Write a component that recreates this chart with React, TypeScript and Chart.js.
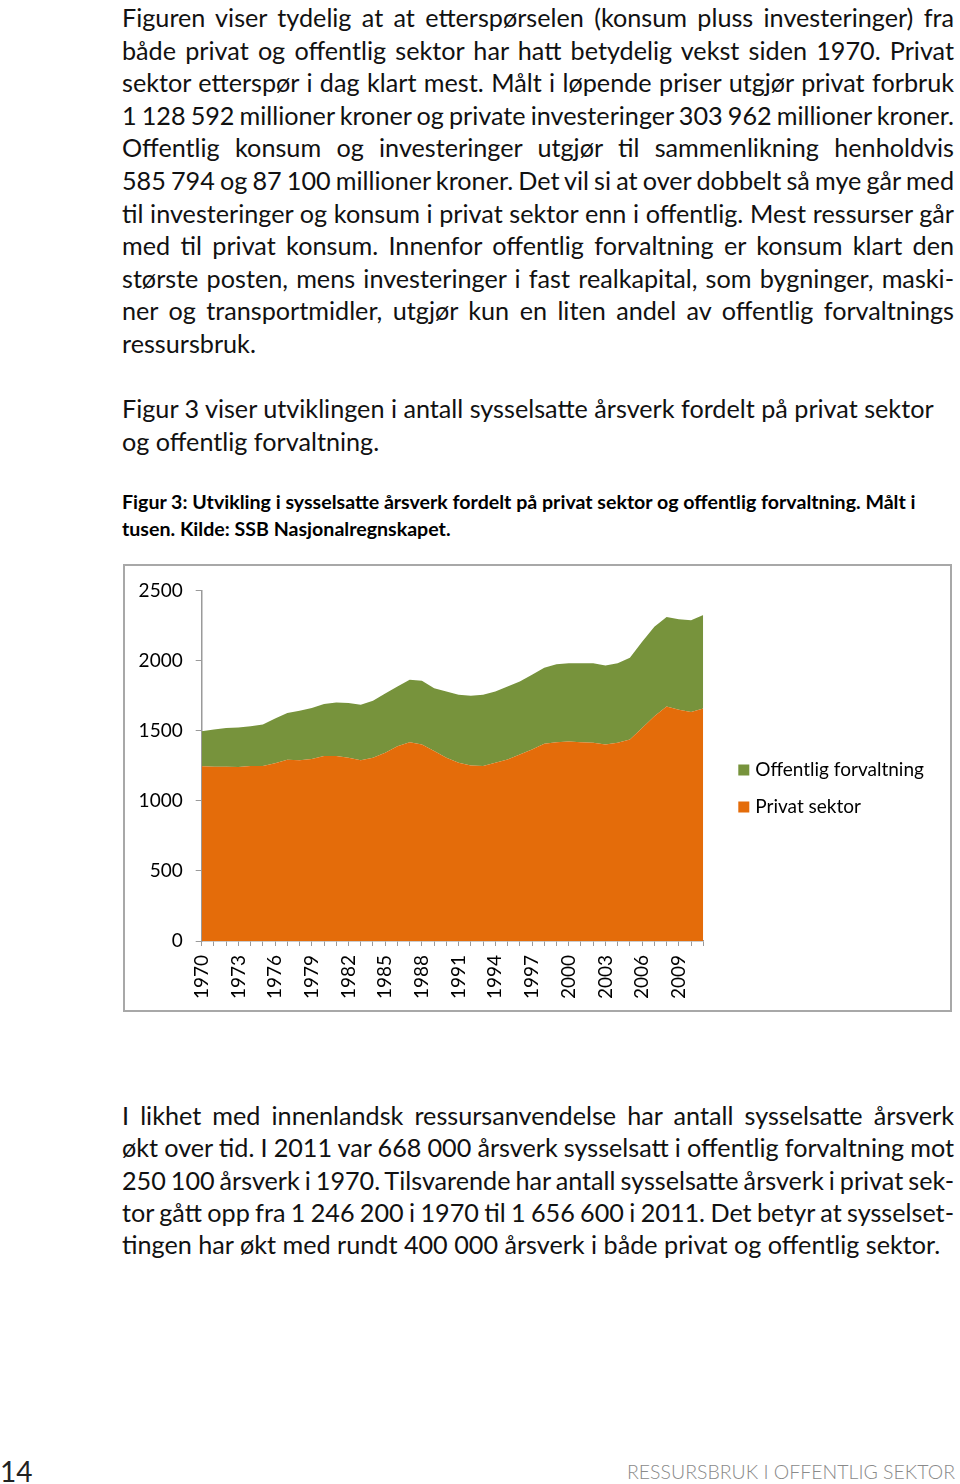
import React, { useEffect, useLayoutEffect, useRef } from "react";
import { Chart, registerables } from "chart.js";

Chart.register(...registerables);

const years = [
  "1970", "1971", "1972", "1973", "1974", "1975", "1976", "1977", "1978", "1979",
  "1980", "1981", "1982", "1983", "1984", "1985", "1986", "1987", "1988", "1989",
  "1990", "1991", "1992", "1993", "1994", "1995", "1996", "1997", "1998", "1999",
  "2000", "2001", "2002", "2003", "2004", "2005", "2006", "2007", "2008", "2009",
  "2010", "2011",
];

const privatSektor = [
  1246, 1243, 1243, 1241, 1248, 1248, 1267, 1293, 1288, 1297,
  1319, 1319, 1307, 1288, 1307, 1342, 1389, 1418, 1401, 1354,
  1307, 1271, 1252, 1248, 1271, 1295, 1330, 1366, 1406, 1418,
  1423, 1418, 1413, 1401, 1413, 1437, 1519, 1602, 1673, 1649,
  1633, 1657,
];

const offentligForvaltning = [
  250, 265, 276, 281, 283, 295, 319, 333, 354, 364,
  371, 382, 390, 397, 406, 423, 426, 444, 454, 449,
  472, 485, 497, 508, 508, 520, 520, 532, 543, 555,
  557, 562, 567, 563, 567, 583, 615, 638, 638, 645,
  654, 668,
];

const labeledYears = ["1970", "1973", "1976", "1979", "1982", "1985", "1988", "1991", "1994", "1997", "2000", "2003", "2006", "2009"];
const seriesNames = ["Privat sektor", "Offentlig forvaltning"];

const ORANGE = "#E46C0A";
const GREEN = "#77933C";
const AXIS = "#9a9a9a";
const CHART_FONT = "Lato, 'Open Sans', sans-serif";

const para1 = [
  "Figuren viser tydelig at at etterspørselen (konsum pluss investeringer) fra",
  "både privat og offentlig sektor har hatt betydelig vekst siden 1970. Privat",
  "sektor etterspør i dag klart mest. Målt i løpende priser utgjør privat forbruk",
  "1 128 592 millioner kroner og private investeringer 303 962 millioner kroner.",
  "Offentlig konsum og investeringer utgjør til sammenlikning henholdvis",
  "585 794 og 87 100 millioner kroner. Det vil si at over dobbelt så mye går med",
  "til investeringer og konsum i privat sektor enn i offentlig. Mest ressurser går",
  "med til privat konsum. Innenfor offentlig forvaltning er konsum klart den",
  "største posten, mens investeringer i fast realkapital, som bygninger, maski-",
  "ner og transportmidler, utgjør kun en liten andel av offentlig forvaltnings",
  "ressursbruk.",
];
const para2 = [
  "Figur 3 viser utviklingen i antall sysselsatte årsverk fordelt på privat sektor",
  "og offentlig forvaltning.",
];
const caption = [
  "Figur 3: Utvikling i sysselsatte årsverk fordelt på privat sektor og offentlig forvaltning. Målt i",
  "tusen. Kilde: SSB Nasjonalregnskapet.",
];
const para3 = [
  "I likhet med innenlandsk ressursanvendelse har antall sysselsatte årsverk",
  "økt over tid. I 2011 var 668 000 årsverk sysselsatt i offentlig forvaltning mot",
  "250 100 årsverk i 1970. Tilsvarende har antall sysselsatte årsverk i privat sek-",
  "tor gått opp fra 1 246 200 i 1970 til 1 656 600 i 2011. Det betyr at sysselset-",
  "tingen har økt med rundt 400 000 årsverk i både privat og offentlig sektor.",
];

const legendPlugin = {
  id: "sideLegend",
  afterDraw(chart: any) {
    const ctx = chart.ctx;
    const ds = chart.data.datasets;
    const items = [ds[1], ds[0]];
    const x0 = chart.chartArea.right + 35;
    const ys = [204, 241];
    ctx.save();
    ctx.font = `19px ${CHART_FONT}`;
    ctx.textBaseline = "middle";
    ctx.textAlign = "left";
    items.forEach((it: any, i: number) => {
      ctx.fillStyle = it.backgroundColor;
      ctx.fillRect(x0, ys[i] - 5.5, 11, 11);
      ctx.fillStyle = "#000";
      ctx.fillText(it.label, x0 + 17, ys[i]);
    });
    ctx.restore();
  },
};

function AreaChart() {
  const ref = useRef<HTMLCanvasElement | null>(null);
  useEffect(() => {
    if (!ref.current) return;
    const chart = new Chart(ref.current, {
      type: "line",
      data: {
        labels: years,
        datasets: [
          {
            label: seriesNames[0],
            data: privatSektor,
            backgroundColor: ORANGE,
            borderColor: ORANGE,
            borderWidth: 0,
            pointRadius: 0,
            fill: "origin",
            tension: 0,
          },
          {
            label: seriesNames[1],
            data: offentligForvaltning,
            backgroundColor: GREEN,
            borderColor: GREEN,
            borderWidth: 0,
            pointRadius: 0,
            fill: "-1",
            tension: 0,
          },
        ],
      },
      options: {
        animation: false,
        responsive: false,
        maintainAspectRatio: false,
        layout: { padding: { top: 22, right: 246.7, left: 0, bottom: 0 } },
        plugins: {
          legend: { display: false },
          tooltip: { enabled: false },
        },
        scales: {
          x: {
            offset: false,
            grid: { drawOnChartArea: false, drawTicks: true, tickLength: 5, color: AXIS },
            border: { display: true, color: AXIS, width: 1.5 },
            ticks: {
              autoSkip: false,
              minRotation: 90,
              maxRotation: 90,
              padding: 9,
              color: "#000",
              font: { family: CHART_FONT, size: 19 },
              callback: function (this: any, value: any) {
                const lbl = this.getLabelForValue(value);
                return labeledYears.includes(lbl) ? lbl : "";
              },
            },
            afterFit: (scale: any) => {
              scale.height = 69;
            },
          },
          y: {
            stacked: true,
            min: 0,
            max: 2500,
            grid: { drawOnChartArea: false, drawTicks: true, tickLength: 6, color: AXIS },
            border: { display: true, color: AXIS, width: 1.5 },
            ticks: {
              stepSize: 500,
              padding: 13,
              color: "#000",
              font: { family: CHART_FONT, size: 19 },
              callback: (value: any) => String(value),
            },
            afterFit: (scale: any) => {
              scale.width = 76.7;
            },
          },
        },
      },
      plugins: [legendPlugin],
    });
    return () => chart.destroy();
  }, []);
  return <canvas ref={ref} width={825} height={444} style={{ display: "block", width: 825, height: 444 }} />;
}

const TEXT_FONT = "Lato, 'Open Sans', sans-serif";
const TEXT_WIDTH = 832;

function Line({ text, justify, lineHeight }: any) {
  const ref = useRef<HTMLSpanElement | null>(null);
  useLayoutEffect(() => {
    const el = ref.current;
    if (!el) return;
    const measure = () => {
      el.style.wordSpacing = "0px";
      const w = el.getBoundingClientRect().width;
      const spaces = (text.match(/ /g) || []).length;
      if (!spaces) return;
      if (justify || w > TEXT_WIDTH) {
        el.style.wordSpacing = `${(TEXT_WIDTH - w) / spaces}px`;
      }
    };
    measure();
    const f: any = (document as any).fonts;
    if (f && f.ready) f.ready.then(measure);
  }, [text, justify]);
  return (
    <div style={{ height: lineHeight, lineHeight: `${lineHeight}px`, whiteSpace: "nowrap" }}>
      <span ref={ref} style={{ whiteSpace: "nowrap" }}>
        {text}
      </span>
    </div>
  );
}

function Para({ lines, top, lineHeight, justifyAll, style }: any) {
  return (
    <div style={{ position: "absolute", left: 122, top, width: TEXT_WIDTH, ...style }}>
      {lines.map((l: string, i: number) => {
        const isLast = i === lines.length - 1;
        const justify = justifyAll && !isLast;
        return <Line key={i} text={l} justify={justify} lineHeight={lineHeight} />;
      })}
    </div>
  );
}

export default function App() {
  const body = { fontFamily: TEXT_FONT, fontSize: 25.2, letterSpacing: "0px", color: "#111" };
  return (
    <div style={{ position: "absolute", left: 0, top: 0, width: 960, height: 1484, background: "#fff", overflow: "hidden" }}>
      <Para lines={para1} top={1} lineHeight={32.6} justifyAll style={body} />
      <Para lines={para2} top={392} lineHeight={32.6} justifyAll={false} style={body} />
      <Para
        lines={caption}
        top={489}
        lineHeight={26.5}
        justifyAll={false}
        style={{ fontFamily: TEXT_FONT, fontSize: 19.6, fontWeight: 700, letterSpacing: "0px", color: "#000" }}
      />
      <div
        style={{
          position: "absolute",
          left: 123,
          top: 564,
          width: 829,
          height: 448,
          border: "2px solid #a8a8a8",
          boxSizing: "border-box",
          background: "#fff",
        }}
      >
        <AreaChart />
      </div>
      <Para lines={para3} top={1099} lineHeight={32.3} justifyAll style={body} />
      <div style={{ position: "absolute", left: 0, top: 1455, fontFamily: TEXT_FONT, fontSize: 28, fontWeight: 400, color: "#222", lineHeight: "32px" }}>
        14
      </div>
      <div
        style={{
          position: "absolute",
          right: 5,
          top: 1460,
          fontFamily: TEXT_FONT,
          fontSize: 19.5,
          fontWeight: 300,
          color: "#8a8a8a",
          lineHeight: "24px",
          whiteSpace: "nowrap",
        }}
      >
        RESSURSBRUK I OFFENTLIG SEKTOR
      </div>
    </div>
  );
}
